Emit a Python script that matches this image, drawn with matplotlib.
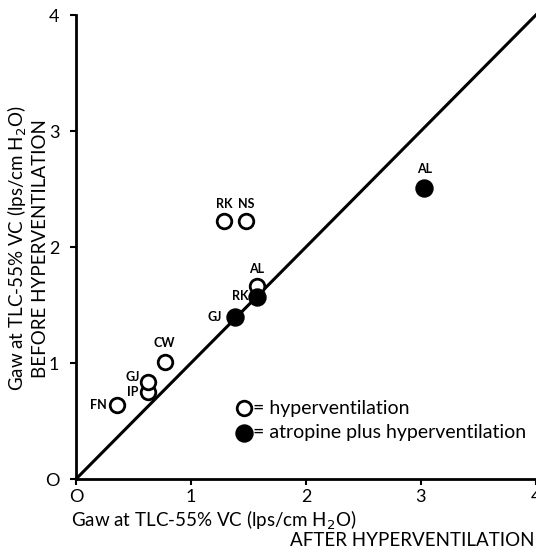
import matplotlib.pyplot as plt
import numpy as np

plt.rcParams['font.family'] = ['Lato', 'DejaVu Sans']

# hyperventilation (open circles)
open_names = ['FN', 'IP', 'GJ', 'CW', 'RK', 'NS', 'AL']
open_after = [0.36, 0.63, 0.63, 0.77, 1.29, 1.48, 1.57]
open_before = [0.64, 0.75, 0.84, 1.01, 2.22, 2.22, 1.66]

# atropine plus hyperventilation (filled circles)
filled_names = ['GJ', 'RK', 'AL']
filled_after = [1.38, 1.57, 3.03]
filled_before = [1.40, 1.57, 2.51]

ticks = [0, 1, 2, 3, 4]

fig = plt.figure(figsize=(5.36, 5.52), dpi=100)
ax = fig.add_axes([0.1418, 0.1322, 0.858, 0.8406])

ax.plot([0, 4], [0, 4], color='black', lw=2.2, clip_on=False)

ax.scatter(open_after, open_before, s=110, facecolors='white', edgecolors='black',
           linewidths=2, zorder=3)
ax.scatter(filled_after, filled_before, s=150, facecolors='black', edgecolors='black',
           zorder=4)

# point labels (offsets in points)
open_offsets = {'FN': (-8, 0, 'right', 'center'), 'IP': (-7, 0, 'right', 'center'),
                'GJ': (-6, 3, 'right', 'center'), 'CW': (0, 9, 'center', 'bottom'),
                'RK': (0, 8, 'center', 'bottom'), 'NS': (0, 8, 'center', 'bottom'),
                'AL': (0, 8, 'center', 'bottom')}
filled_offsets = {'GJ': (-9, 0, 'right', 'center'), 'RK': (-6, 1, 'right', 'center'),
                  'AL': (0, 9, 'center', 'bottom')}
for n, x, y in zip(open_names, open_after, open_before):
    dx, dy, ha, va = open_offsets[n]
    ax.annotate(n, (x, y), xytext=(dx, dy), textcoords='offset points',
                ha=ha, va=va, fontsize=9, fontweight='bold')
for n, x, y in zip(filled_names, filled_after, filled_before):
    dx, dy, ha, va = filled_offsets[n]
    ax.annotate(n, (x, y), xytext=(dx, dy), textcoords='offset points',
                ha=ha, va=va, fontsize=9, fontweight='bold')

ax.set_xlim(0, 4)
ax.set_ylim(0, 4)
ax.set_xticks(ticks)
ax.set_yticks(ticks)
ax.set_xticklabels(['O', '1', '2', '3', '4'], fontsize=13)
ax.set_yticklabels(['O', '1', '2', '3', '4'], fontsize=13)
ax.tick_params(direction='out', length=4, width=1.5)
ax.tick_params(axis='y', pad=8)
ax.tick_params(axis='x', pad=3)
for s in ['top', 'right']:
    ax.spines[s].set_visible(False)
for s in ['left', 'bottom']:
    ax.spines[s].set_linewidth(2)

# legend drawn as in the original figure
ax.scatter([1.46], [0.61], s=110, facecolors='white', edgecolors='black', linewidths=2,
           clip_on=False)
ax.scatter([1.46], [0.40], s=150, facecolors='black', clip_on=False)
ax.text(1.54, 0.61, '= hyperventilation', fontsize=14, va='center')
ax.text(1.54, 0.40, '= atropine plus hyperventilation', fontsize=14, va='center')

fig.text(0.033, 0.55, 'Gaw at TLC-55% VC (lps/cm H$_2$O)', rotation=90, fontsize=13.5,
         ha='center', va='center')
fig.text(0.075, 0.55, 'BEFORE HYPERVENTILATION', rotation=90, fontsize=13.5,
         ha='center', va='center')
fig.text(0.133, 0.057, 'Gaw at TLC-55% VC (lps/cm H$_2$O)', fontsize=13.5,
         ha='left', va='center')
fig.text(0.998, 0.020, 'AFTER HYPERVENTILATION', fontsize=13.5, ha='right', va='center')

fig.savefig('out.png', dpi=100)
